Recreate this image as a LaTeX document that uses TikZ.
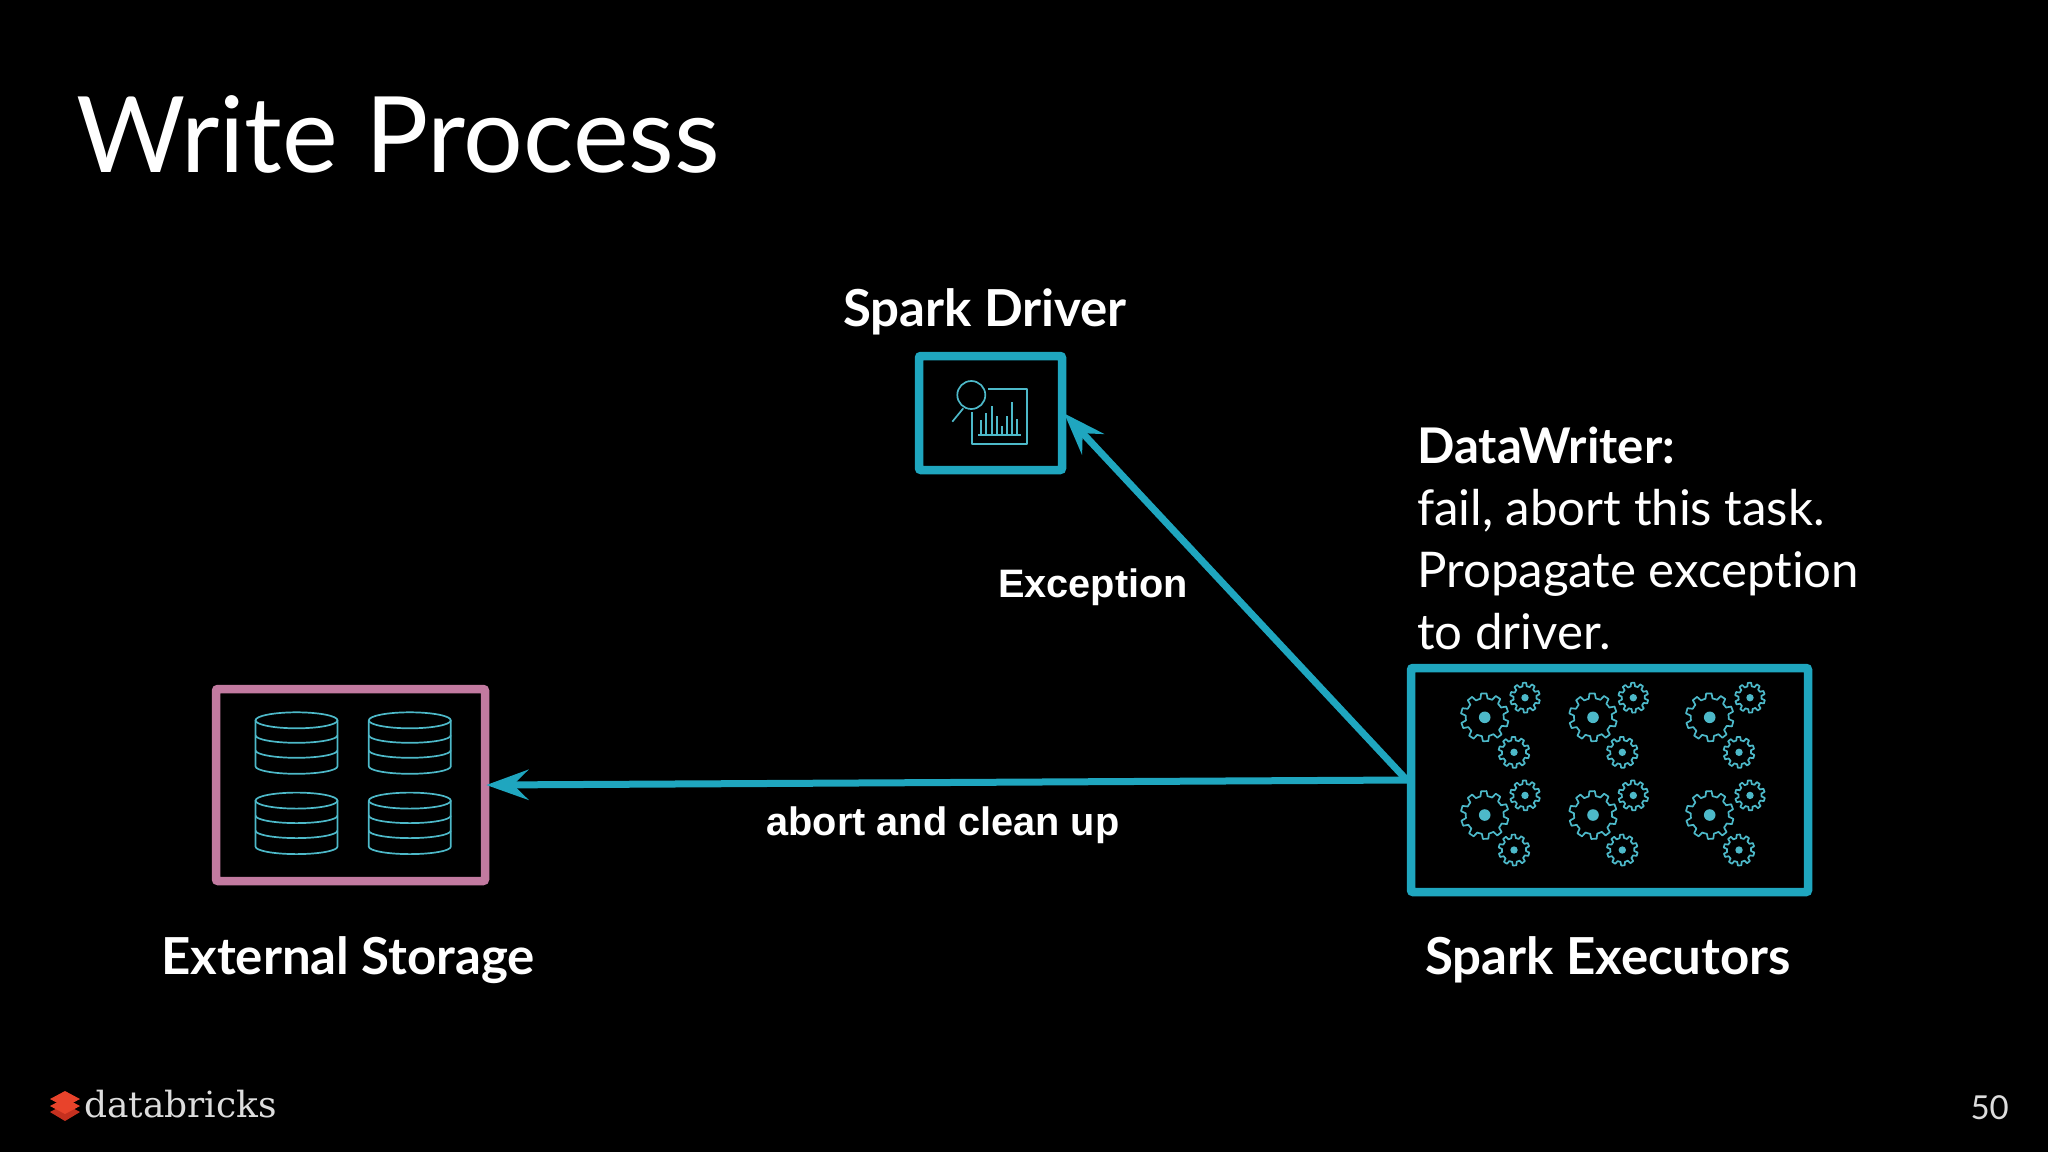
\documentclass[tikz,border=0pt]{standalone}
\usepackage{fontspec}
\usetikzlibrary{arrows.meta}
\setmainfont{Lato}[Ligatures=NoCommon]
\newfontfamily\labelfont{Liberation Sans}
\newfontfamily\logofont{DejaVu Serif}
\definecolor{tealbox}{HTML}{1FA6BF}
\definecolor{iconteal}{HTML}{4DB9C9}
\definecolor{pinkbox}{HTML}{C27AA0}
\definecolor{logored}{HTML}{E8432B}
\definecolor{logodark}{HTML}{C5301F}
\definecolor{logotext}{HTML}{DDDDDD}
\tikzset{
  box/.style={draw=#1,line width=8.5pt,rounded corners=2pt,inner sep=0pt},
  conn/.style={draw=tealbox,line width=7pt,shorten >=-3pt,-{Stealth[length=42pt,width=30pt,inset=15pt,color=tealbox]}},
  icon/.style={draw=iconteal,line width=1.7pt,line join=round},
  head/.style={text=white,font=\fontsize{51}{60}\selectfont\bfseries,anchor=base,inner sep=0pt},
  lab/.style={text=white,font=\labelfont\fontsize{39.7}{46}\selectfont\bfseries,anchor=base,inner sep=0pt},
}
% \gearshape{cx}{cy}{outer radius}{inner radius}{teeth}{hub radius}
\newcommand\gearshape[6]{%
  \pgfmathsetmacro\gstep{360/#5}%
  \draw[icon] (#1+#4,#2)
    \foreach \gi in {1,...,#5}{
      \pgfextra{\pgfmathsetmacro\ga{(\gi-1)*\gstep}}
      -- ({#1+#4*cos(\ga+.14*\gstep)},{#2+#4*sin(\ga+.14*\gstep)})
      -- ({#1+#3*cos(\ga+.26*\gstep)},{#2+#3*sin(\ga+.26*\gstep)})
      -- ({#1+#3*cos(\ga+.62*\gstep)},{#2+#3*sin(\ga+.62*\gstep)})
      -- ({#1+#4*cos(\ga+.74*\gstep)},{#2+#4*sin(\ga+.74*\gstep)})
      -- ({#1+#4*cos(\ga+\gstep)},{#2+#4*sin(\ga+\gstep)})
    } -- cycle;
  \fill[iconteal] (#1,#2) circle[radius=#6];
}
% \gearset{cx of large gear}{cy of large gear}
\newcommand\gearset[2]{%
  \gearshape{#1}{#2}{24}{19}{10}{5.8}%
  \gearshape{#1+40.3}{#2-19.6}{15}{11.5}{10}{3.7}%
  \gearshape{#1+29.3}{#2+35}{15.5}{12}{10}{3.7}%
}
% \cylinder{left x}{top-ellipse y}
\newcommand\cylinder[2]{%
  \draw[icon] (#1+41,#2) ellipse[x radius=41,y radius=8];
  \draw[icon] (#1,#2) -- (#1,#2+46) arc[start angle=180,end angle=0,x radius=41,y radius=7.5] -- (#1+82,#2);
  \draw[icon] (#1,#2+15) arc[start angle=180,end angle=0,x radius=41,y radius=7.5];
  \draw[icon] (#1,#2+30) arc[start angle=180,end angle=0,x radius=41,y radius=7.5];
}
\begin{document}
\begin{tikzpicture}[x=1pt,y=-1pt]
\useasboundingbox (0,0) rectangle (2048,1152);
\fill[black] (0,0) rectangle (2048,1152);

\node[text=white,font=\fontsize{105.5}{120}\selectfont,anchor=base west,inner sep=0pt] (title) at (76,172) {Write Process};

% boxes
\node[box=tealbox,minimum width=143pt,minimum height=114pt] (driver) at (990.5,413) {};
\node[box=tealbox,minimum width=397pt,minimum height=224pt] (exec) at (1609.5,780) {};
\node[box=pinkbox,minimum width=269pt,minimum height=192pt] (store) at (350.5,785) {};

% connectors
\draw[conn] (exec.west) -- (store.east);
\draw[conn] (exec.west) -- (driver.-2.4);

% labels
\node[head] (ldriver) at (985,326) {Spark Driver};
\node[head] (lstore) at (348,974) {External Storage};
\node[head] (lexec) at (1608,974) {Spark Executors};
\node[lab] (lexc) at (1093,597) {Exception};
\node[lab] (labort) at (943,835) {abort and clean up};
\node[text=white,font=\fontsize{49.2}{62}\selectfont,align=left,anchor=north west,inner sep=0pt] (dw) at (1417,427)
  {\textbf{DataWriter:}\\fail, abort this task.\\Propagate exception\\to driver.};
\node[text=logotext,font=\fontsize{33}{40}\selectfont,anchor=base east,inner sep=0pt] (page) at (2009,1119) {50};

% driver icon
\draw[icon] (971.3,395) circle[radius=14];
\draw[icon] (963.3,408.3) -- (952.3,421.7);
\draw[icon] (988.3,389.3) -- (1027,389.3) -- (1027,444.3) -- (971.7,444.3) -- (971.7,411.7);
\draw[icon] (978.3,435) -- (1020.7,435);
\foreach \bx/\by in {981/420,986.3/413.3,991.7/405.7,997/416,1002/425.7,1007/416.3,1012.3/402.3,1017.3/419.3}
  \draw[icon] (\bx,435) -- (\bx,\by);

% gears
\foreach \gx in {1484.7,1593,1709.7}
  \foreach \gy in {717.3,815}
    {\gearset{\gx}{\gy}}

% cylinders
\foreach \cx in {255.5,368.8}
  \foreach \cy in {720.3,800.6}
    {\cylinder{\cx}{\cy}}

% logo
\fill[logodark] (50,1112) -- (65,1104) -- (80,1112) -- (65,1121) -- cycle;
\fill[logored] (50,1106) -- (65,1098) -- (80,1106) -- (65,1114) -- cycle;
\fill[logored] (50,1099) -- (65,1091) -- (80,1099) -- (65,1107) -- cycle;
\node[text=logotext,font=\logofont\fontsize{36}{44}\selectfont,anchor=base west,inner sep=0pt] (logo) at (84,1117) {databricks};
\end{tikzpicture}
\end{document}
